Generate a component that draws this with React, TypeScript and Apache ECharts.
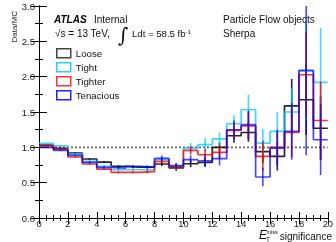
import React, { useEffect, useRef } from "react";
import * as echarts from "echarts";

const seriesNames = ["Loose", "Tight", "Tighter", "Tenacious"];
const seriesColors = ["rgba(0,0,0,0.85)", "rgba(0,200,255,0.75)", "rgba(255,0,0,0.8)", "rgba(0,0,255,0.72)"];
const legendColors = ["#444444", "#33ccff", "#ff3333", "#2222ee"];

// 20 bins of width 1 from 0 to 20
const looseValues = [1.03, 0.985, 0.92, 0.835, 0.79, 0.73, 0.72, 0.72, 0.764, 0.71, 0.768, 0.787, 1.0, 1.164, 1.21, 0.938, 0.872, 1.588, 1.673, 1.27];
const tightValues = [1.055, 1.02, 0.905, 0.8, 0.73, 0.683, 0.683, 0.68, 0.83, 0.73, 0.99, 1.037, 1.12, 1.334, 1.532, 1.06, 1.225, 1.5, 2.08, 1.92];
const tighterValues = [1.02, 0.975, 0.863, 0.764, 0.693, 0.645, 0.645, 0.655, 0.8, 0.725, 0.957, 0.895, 0.928, 1.24, 1.305, 0.872, 1.0, 1.21, 2.027, 1.38];
const tenaciousValues = [1.0, 0.957, 0.886, 0.787, 0.716, 0.707, 0.73, 0.72, 0.843, 0.74, 0.825, 0.81, 0.84, 1.249, 1.32, 0.58, 0.99, 1.225, 2.088, 1.107];

const looseErrors = [0.01, 0.01, 0.01, 0.01, 0.012, 0.015, 0.015, 0.02, 0.03, 0.04, 0.05, 0.06, 0.07, 0.1, 0.13, 0.16, 0.2, 0.38, 0.5, 0.45];
const tightErrors = [0.01, 0.01, 0.01, 0.012, 0.015, 0.015, 0.02, 0.02, 0.035, 0.045, 0.07, 0.1, 0.09, 0.12, 0.21, 0.2, 0.27, 0.34, 0.7, 0.77];
const tighterErrors = [0.01, 0.01, 0.01, 0.01, 0.012, 0.015, 0.015, 0.02, 0.03, 0.04, 0.06, 0.08, 0.09, 0.12, 0.19, 0.2, 0.25, 0.35, 0.6, 0.55];
const tenaciousErrors = [0.01, 0.01, 0.01, 0.012, 0.015, 0.015, 0.02, 0.02, 0.04, 0.04, 0.06, 0.09, 0.095, 0.13, 0.2, 0.13, 0.25, 0.4, 1.2, 0.5];

const xTicks = [0, 2, 4, 6, 8, 10, 12, 14, 16, 18, 20];
const yTicks = [0, 0.5, 1, 1.5, 2, 2.5, 3];

const FONT = "'Liberation Sans', Arial, sans-serif";

function stepData(vals: number[]) {
  const d: number[][] = vals.map((v, i) => [i, v]);
  d.push([vals.length, vals[vals.length - 1]]);
  return d;
}

export default function App() {
  const ref = useRef<HTMLDivElement>(null);
  useEffect(() => {
    if (!ref.current) return;
    const chart = echarts.init(ref.current, undefined, { renderer: "svg" });
    const allVals = [looseValues, tightValues, tighterValues, tenaciousValues];
    const allErrs = [looseErrors, tightErrors, tighterErrors, tenaciousErrors];

    const series: any[] = [];
    series.push({
      type: "line",
      name: "ref",
      data: [[xTicks[0], 1], [xTicks[xTicks.length - 1], 1]],
      symbol: "none",
      lineStyle: { color: "#666", width: 1.6, type: [2, 2] },
      z: 1,
    });
    allVals.forEach((vals, k) => {
      series.push({
        type: "line",
        name: seriesNames[k],
        data: stepData(vals),
        step: "end",
        symbol: "none",
        showSymbol: false,
        lineStyle: { color: seriesColors[k], width: 1.7 },
        itemStyle: { color: seriesColors[k] },
        z: 2 + k,
      });
      series.push({
        type: "custom",
        name: seriesNames[k] + " err",
        data: vals.map((v, i) => [i + 0.5, v, allErrs[k][i]]),
        encode: { x: 0, y: 1 },
        z: 2 + k,
        renderItem: (params: any, api: any) => {
          const x = api.value(0);
          const v = api.value(1);
          const e = api.value(2);
          const top = api.coord([x, v + e]);
          const bot = api.coord([x, v - e]);
          const cs = params.coordSys;
          return {
            type: "line",
            shape: {
              x1: top[0],
              y1: Math.max(top[1], cs.y),
              x2: bot[0],
              y2: Math.min(bot[1], cs.y + cs.height),
            },
            style: { stroke: seriesColors[k], lineWidth: 1.6 },
          };
        },
      });
    });

    const axisCommon = {
      axisLine: { show: true, lineStyle: { color: "#000", width: 1 } },
      splitLine: { show: false },
    };

    chart.setOption({
      animation: false,
      grid: { left: 39, right: 4, top: 6, bottom: 24, containLabel: false },
      xAxis: [
        {
          type: "value",
          min: xTicks[0],
          max: xTicks[xTicks.length - 1],
          interval: 2,
          position: "bottom",
          ...axisCommon,
          axisTick: { inside: true, length: 6, lineStyle: { color: "#000" } },
          minorTick: { show: true, splitNumber: 4, length: 3, lineStyle: { color: "#000" } },
          axisLabel: { fontSize: 9.3, color: "#222", margin: 1.5, fontFamily: FONT },
        },
        {
          type: "value",
          min: xTicks[0],
          max: xTicks[xTicks.length - 1],
          interval: 2,
          position: "top",
          ...axisCommon,
          axisTick: { inside: true, length: 6, lineStyle: { color: "#000" } },
          minorTick: { show: true, splitNumber: 4, length: 3, lineStyle: { color: "#000" } },
          axisLabel: { show: false },
        },
      ],
      yAxis: [
        {
          type: "value",
          min: yTicks[0],
          max: yTicks[yTicks.length - 1],
          interval: 0.5,
          position: "left",
          ...axisCommon,
          axisTick: { inside: true, length: 8, lineStyle: { color: "#000" } },
          minorTick: { show: true, splitNumber: 2, length: 4, lineStyle: { color: "#000" } },
          axisLabel: {
            fontSize: 9.5,
            color: "#222",
            margin: 4,
            fontFamily: FONT,
            formatter: (v: number) => v.toFixed(1),
          },
        },
        {
          type: "value",
          min: yTicks[0],
          max: yTicks[yTicks.length - 1],
          interval: 0.5,
          position: "right",
          ...axisCommon,
          axisTick: { inside: true, length: 8, lineStyle: { color: "#000" } },
          minorTick: { show: true, splitNumber: 2, length: 4, lineStyle: { color: "#000" } },
          axisLabel: { show: false },
        },
      ],
      legend: {
        orient: "vertical",
        left: 56,
        top: 48,
        padding: 0,
        itemWidth: 14,
        itemHeight: 9,
        itemGap: 3.5,
        icon: "rect",
        selectedMode: false,
        textStyle: { fontSize: 9.7, fontFamily: FONT, color: "#111" },
        data: seriesNames.map((n, i) => ({
          name: n,
          itemStyle: { color: "rgba(0,0,0,0)", borderColor: legendColors[i], borderWidth: 1.5 },
        })),
      },
      graphic: [
        { type: "text", x: 14, y: 11, rotation: Math.PI / 2, style: { text: "Data/MC", font: `8px ${FONT}`, fill: "#222", textAlign: "right", textVerticalAlign: "middle" } },
        { type: "text", x: 54, y: 19.7, style: { text: "ATLAS", font: `italic bold 10px ${FONT}`, fill: "#000", textVerticalAlign: "middle" } },
        { type: "text", x: 94, y: 19.7, style: { text: "Internal", font: `10px ${FONT}`, fill: "#111", textVerticalAlign: "middle" } },
        { type: "text", x: 55, y: 33.5, style: { text: "√s = 13 TeV,", font: `10px ${FONT}`, fill: "#111", textVerticalAlign: "middle" } },
        { type: "text", x: 118, y: 35, style: { text: "∫", font: `20px 'DejaVu Serif', serif`, fill: "#111", textVerticalAlign: "middle" } },
        {
          type: "text",
          x: 132,
          y: 29,
          style: {
            text: "{n|Ldt = 58.5 fb}{s|-1}",
            fill: "#111",
            rich: {
              n: { font: `9.6px ${FONT}`, fill: "#111", verticalAlign: "bottom", lineHeight: 9, padding: [4, 0, 0, 0] },
              s: { font: `6px ${FONT}`, fill: "#111", verticalAlign: "top", lineHeight: 7 },
            },
          },
        },
        { type: "text", x: 223, y: 19.7, style: { text: "Particle Flow objects", font: `10px ${FONT}`, fill: "#111", textVerticalAlign: "middle" } },
        { type: "text", x: 223, y: 33.5, style: { text: "Sherpa", font: `10px ${FONT}`, fill: "#111", textVerticalAlign: "middle" } },
        { type: "text", x: 259, y: 235, style: { text: "E", font: `italic 12px ${FONT}`, fill: "#111", textVerticalAlign: "middle" } },
        { type: "text", x: 266.5, y: 231.5, style: { text: "miss", font: `5.5px ${FONT}`, fill: "#111", textVerticalAlign: "middle" } },
        { type: "text", x: 266, y: 239.5, style: { text: "T", font: `6.5px ${FONT}`, fill: "#111", textVerticalAlign: "middle" } },
        { type: "text", x: 332, y: 236.5, style: { text: "significance", font: `10px ${FONT}`, fill: "#111", textAlign: "right", textVerticalAlign: "middle" } },
      ],
      series,
    });
    return () => chart.dispose();
  }, []);
  return <div ref={ref} style={{ position: "fixed", left: 0, top: 0, width: 336, height: 242 }} />;
}
